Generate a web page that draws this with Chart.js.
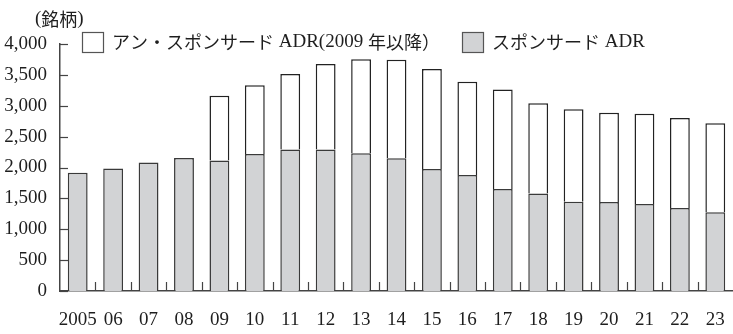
<!DOCTYPE html>
<html lang="ja">
<head>
<meta charset="utf-8">
<script src="https://cdn.jsdelivr.net/npm/chart.js@4/dist/chart.umd.min.js"></script>
<style>
  html, body { margin: 0; padding: 0; background: #fff; }
  #wrap { width: 733px; height: 334px; position: relative; }
</style>
</head>
<body>
<div id="wrap"><canvas id="c"></canvas></div>
<script>
// 年（2005年以降）
const years = ['2005', '06', '07', '08', '09', '10', '11', '12', '13', '14',
               '15', '16', '17', '18', '19', '20', '21', '22', '23'];
// スポンサード ADR の銘柄数
const sponsored = [1915, 1985, 2080, 2155, 2115, 2220, 2290, 2290, 2230, 2150,
                   1975, 1880, 1650, 1580, 1445, 1440, 1410, 1345, 1275];
// アン・スポンサード ADR の銘柄数（2009年以降）
const unsponsored = [null, null, null, null, 1045, 1110, 1225, 1385, 1525, 1595,
                     1620, 1510, 1615, 1460, 1500, 1445, 1460, 1455, 1440];
// 縦軸の目盛
const yTicks = [0, 500, 1000, 1500, 2000, 2500, 3000, 3500, 4000];

const unitLabel = '(銘柄)';
const seriesNames = ['アン・スポンサード ADR(2009 年以降）', 'スポンサード ADR'];

const SERIF = "'Liberation Serif', serif";
const CJK = "'Noto Sans CJK JP', sans-serif";
const INK = '#1e1e1e';
const GREY = '#d2d3d5';

// 欧文は Liberation Serif、和文は Noto Sans CJK JP で組む
function drawMixed(ctx, text, x, y) {
  const runs = text.match(/[\x00-\x7F]+|[^\x00-\x7F]+/g) || [];
  let cx = x;
  runs.forEach(run => {
    const latin = /^[\x00-\x7F]+$/.test(run);
    ctx.font = latin ? '19px ' + SERIF : '18px ' + CJK;
    ctx.fillText(run, cx, y);
    cx += ctx.measureText(run).width;
  });
  return cx;
}

// 内向きの目盛線・単位・凡例を描く
const decorations = {
  id: 'decorations',
  afterDraw(chart) {
    const { ctx, chartArea, scales } = chart;
    const x = scales.x, y = scales.y;
    ctx.save();
    ctx.strokeStyle = '#444';
    ctx.lineWidth = 1.2;
    // 縦軸：内側へ短い目盛
    yTicks.forEach(v => {
      const py = Math.round(y.getPixelForValue(v)) + 0.5;
      ctx.beginPath();
      ctx.moveTo(chartArea.left, py);
      ctx.lineTo(chartArea.left + 8, py);
      ctx.stroke();
    });
    // 横軸：区切りの短い目盛（上向き）
    for (let i = 1; i < years.length; i++) {
      const px = Math.round((x.getPixelForValue(i - 1) + x.getPixelForValue(i)) / 2) + 0.5;
      ctx.beginPath();
      ctx.moveTo(px, chartArea.bottom);
      ctx.lineTo(px, chartArea.bottom - 9);
      ctx.stroke();
    }
    // 単位
    ctx.fillStyle = INK;
    ctx.textBaseline = 'middle';
    ctx.textAlign = 'left';
    drawMixed(ctx, unitLabel, 35, 19);
    // 凡例
    const items = [
      { text: seriesNames[0], fill: '#ffffff', bx: 82 },
      { text: seriesNames[1], fill: GREY, bx: 462 }
    ];
    items.forEach(it => {
      ctx.fillStyle = it.fill;
      ctx.fillRect(it.bx, 32, 21, 20);
      ctx.strokeStyle = '#555';
      ctx.lineWidth = 1.2;
      ctx.strokeRect(it.bx + 0.5, 32.5, 21, 20);
      ctx.fillStyle = INK;
      drawMixed(ctx, it.text, it.bx + 30, 42);
    });
    ctx.restore();
  }
};

new Chart(document.getElementById('c'), {
  type: 'bar',
  data: {
    labels: years,
    datasets: [
      {
        label: seriesNames[1],
        data: sponsored,
        backgroundColor: GREY,
        borderColor: '#3a3a3a',
        borderWidth: 1.5,
        barPercentage: 0.56,
        categoryPercentage: 1.0
      },
      {
        label: seriesNames[0],
        data: unsponsored,
        backgroundColor: '#ffffff',
        borderColor: '#222',
        borderWidth: 1.5,
        barPercentage: 0.56,
        categoryPercentage: 1.0
      }
    ]
  },
  options: {
    responsive: true,
    maintainAspectRatio: false,
    animation: false,
    layout: { padding: { top: 44, right: -3, bottom: 0, left: 0 } },
    plugins: {
      legend: { display: false },
      tooltip: { enabled: false }
    },
    scales: {
      x: {
        stacked: true,
        grid: { display: false, drawTicks: false },
        border: { display: true, color: '#444', width: 1.5 },
        ticks: {
          color: INK,
          font: { family: SERIF, size: 19 },
          padding: 18,
          maxRotation: 0,
          autoSkip: false
        },
        afterFit(scale) {
          scale.height = 43;
          scale.paddingLeft = 0;
          scale.paddingRight = 0;
        }
      },
      y: {
        stacked: true,
        min: 0,
        max: 4000,
        afterBuildTicks(scale) { scale.ticks = yTicks.map(v => ({ value: v })); },
        grid: { display: false, drawTicks: false },
        border: { display: true, color: '#444', width: 1.5 },
        ticks: {
          color: INK,
          font: { family: SERIF, size: 19 },
          padding: 13,
          callback: v => v.toLocaleString('en-US')
        },
        afterFit(scale) { scale.width = 60; }
      }
    }
  },
  plugins: [decorations]
});
</script>
</body>
</html>
